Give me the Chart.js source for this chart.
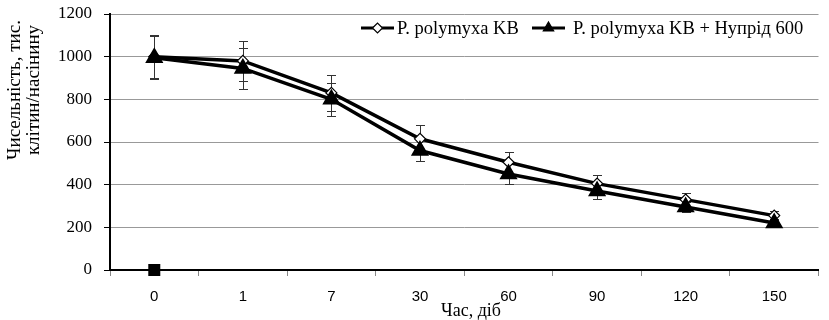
<!DOCTYPE html>
<html>
<head>
<meta charset="utf-8">
<script src="https://cdn.jsdelivr.net/npm/chart.js@4"></script>
<style>
  html, body { margin: 0; padding: 0; background: #fff; }
  #wrap { width: 829px; height: 320px; }
</style>
</head>
<body>
<div id="wrap"><canvas id="chart" width="829" height="320"></canvas></div>
<script>
const days = ["0", "1", "7", "30", "60", "90", "120", "150"];
const kbValues = [1000, 980, 830, 615, 505, 405, 330, 255];
const kbErrors = [100, 95, 85, 65, 50, 40, 30, 20];
const nuprValues = [995, 945, 800, 560, 450, 370, 295, 220];
const nuprErrors = [100, 95, 78, 50, 45, 35, 25, 20];
const controlValues = [0, null, null, null, null, null, null, null];
const yTicks = [0, 200, 400, 600, 800, 1000, 1200];

const serif = "'Liberation Serif', 'Times New Roman', serif";
const sans = "'Liberation Sans', Arial, sans-serif";

// error bars behind the markers
const errorBars = {
  id: "errorBars",
  beforeDatasetsDraw(chart) {
    const { ctx, scales } = chart;
    const sets = [[kbValues, kbErrors], [nuprValues, nuprErrors]];
    ctx.save();
    ctx.strokeStyle = "#333";
    ctx.lineWidth = 1;
    sets.forEach(([vals, errs]) => {
      vals.forEach((v, i) => {
        const x = Math.round(scales.x.getPixelForValue(i)) + 0.5;
        const top = Math.round(scales.y.getPixelForValue(v + errs[i])) + 0.5;
        const bot = Math.round(scales.y.getPixelForValue(v - errs[i])) + 0.5;
        ctx.beginPath();
        ctx.moveTo(x, top); ctx.lineTo(x, bot);
        ctx.moveTo(x - 4.5, top); ctx.lineTo(x + 4.5, top);
        ctx.moveTo(x - 4.5, bot); ctx.lineTo(x + 4.5, bot);
        ctx.stroke();
      });
    });
    ctx.restore();
  },
};

// legend with line + marker, axis titles
const extras = {
  id: "extras",
  afterDraw(chart) {
    const { ctx } = chart;
    ctx.save();
    ctx.font = "18.5px " + serif;
    ctx.fillStyle = "#000";
    ctx.textBaseline = "middle";
    const items = [
      { x: 361, w: 33, gap: 3, text: "P. polymyxa KB", style: "rectRot", fill: "#fff", r: 5 },
      { x: 532, w: 33, gap: 8, text: "P. polymyxa KB + Нупрід 600", style: "triangle", fill: "#000", r: 6 },
    ];
    const ly = 28;
    items.forEach((it) => {
      ctx.strokeStyle = "#000";
      ctx.lineWidth = 3;
      ctx.beginPath();
      ctx.moveTo(it.x, ly); ctx.lineTo(it.x + it.w, ly);
      ctx.stroke();
      ctx.fillStyle = it.fill;
      ctx.lineWidth = 1.2;
      Chart.helpers.drawPoint(ctx, { pointStyle: it.style, radius: it.r, borderWidth: 1.2 }, it.x + it.w / 2, ly);
      ctx.fillStyle = "#000";
      ctx.textAlign = "left";
      ctx.fillText(it.text, it.x + it.w + it.gap, ly + 1);
    });

    ctx.font = "19px " + serif;
    ctx.textAlign = "center";
    ctx.textBaseline = "alphabetic";
    ctx.save();
    ctx.translate(20, 90);
    ctx.rotate(-Math.PI / 2);
    ctx.fillText("Чисельність, тис.", 0, 0);
    ctx.fillText("клітин/насінину", 0, 19);
    ctx.restore();

    ctx.font = "18px " + serif;
    ctx.fillText("Час, діб", 471, 316);
    ctx.restore();
  },
};

const config = {
  type: "line",
  data: {
    labels: days,
    datasets: [
      {
        label: "P. polymyxa KB",
        data: kbValues,
        borderColor: "#000",
        borderWidth: 3.5,
        pointStyle: "rectRot",
        pointRadius: 5.5,
        pointBackgroundColor: "#fff",
        pointBorderColor: "#000",
        pointBorderWidth: 1.2,
        order: 2,
      },
      {
        label: "P. polymyxa KB + Нупрід 600",
        data: nuprValues,
        borderColor: "#000",
        borderWidth: 3.5,
        pointStyle: "triangle",
        pointRadius: 7,
        pointBackgroundColor: "#000",
        pointBorderColor: "#000",
        order: 1,
      },
      {
        label: "control",
        data: controlValues,
        showLine: false,
        clip: false,
        pointStyle: "rect",
        pointRadius: 8.5,
        pointBackgroundColor: "#000",
        pointBorderColor: "#000",
        pointBorderWidth: 0,
        order: 0,
      },
    ],
  },
  options: {
    responsive: false,
    animation: false,
    layout: { padding: { top: 14, right: 2, left: 0, bottom: 0 } },
    plugins: {
      legend: { display: false },
      tooltip: { enabled: false },
    },
    scales: {
      x: {
        offset: true,
        grid: {
          offset: true,
          drawOnChartArea: false,
          drawTicks: true,
          tickLength: 6,
          color: "#888",
        },
        border: { color: "#000", width: 2 },
        ticks: { color: "#000", font: { family: sans, size: 15 }, padding: 12 },
        afterFit: (scale) => { scale.height = 50; },
      },
      y: {
        min: 0,
        max: 1200,
        afterBuildTicks: (scale) => { scale.ticks = yTicks.map((v) => ({ value: v })); },
        grid: { color: "#999", tickLength: 6, tickColor: "#000" },
        border: { color: "#000", width: 2 },
        ticks: {
          color: "#000",
          font: { family: serif, size: 17 },
          padding: 12,
          callback: (v) => String(v),
        },
        afterFit: (scale) => {
          scale.width = 110;
          scale.paddingTop = 0;
          scale.paddingBottom = 0;
        },
      },
    },
  },
  plugins: [errorBars, extras],
};

new Chart(document.getElementById("chart"), config);
</script>
</body>
</html>
